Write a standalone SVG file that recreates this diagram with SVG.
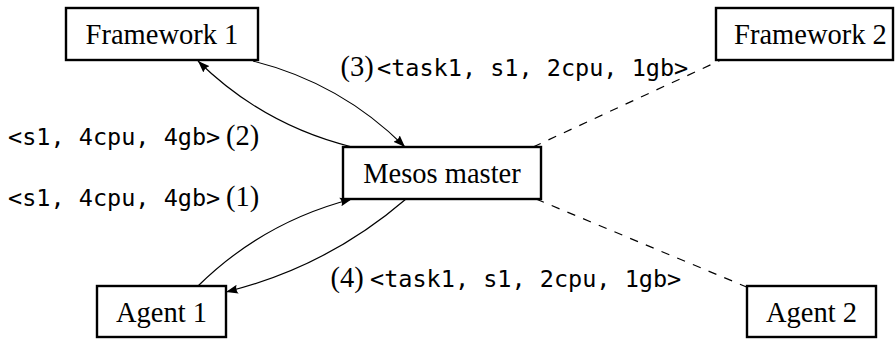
<svg xmlns="http://www.w3.org/2000/svg" width="896" height="340" viewBox="0 0 896 340">
<style>
.box{fill:#fff;stroke:#000;stroke-width:2.4}
.lbl{font-family:"Liberation Serif","DejaVu Serif",serif;font-size:28.5px;fill:#000;text-anchor:middle}
.serif{font-family:"Liberation Serif","DejaVu Serif",serif;font-size:28.5px;fill:#000}
.mono{font-family:"DejaVu Sans Mono","Liberation Mono",monospace;font-size:23.5px;fill:#000}
.edge{fill:none;stroke:#000;stroke-width:1.2}
.dash{fill:none;stroke:#000;stroke-width:1.2;stroke-dasharray:8.5 8.5}
</style>
<defs>
<marker id="arr" markerUnits="userSpaceOnUse" markerWidth="13" markerHeight="10" refX="12" refY="5" orient="auto">
<path d="M0,0.5 L12,5 L0,9.5 Q2.8,5 0,0.5 z" fill="#000"/>
</marker>
</defs>
<rect width="896" height="340" fill="#fff"/>
<g id="connectors">
<path class="edge" d="M253,61 Q341,83 405,147" marker-end="url(#arr)"/>
<path class="edge" d="M352,147 Q263,125 198,61" marker-end="url(#arr)"/>
<path class="edge" d="M198,286 Q263,222 352,199" marker-end="url(#arr)"/>
<path class="edge" d="M406,199 Q327,267 226,292" marker-end="url(#arr)"/>
<path class="dash" d="M533,147 L721,60"/>
<path class="dash" d="M536,199 L749,288"/>
</g>
<g id="framework1">
<rect class="box" x="66" y="8" width="192" height="52"/>
<text class="lbl" x="162" y="44">Framework 1</text>
</g>
<g id="framework2">
<rect class="box" x="716" y="8" width="177" height="52"/>
<text class="lbl" x="810.5" y="44">Framework 2</text>
</g>
<g id="mesos-master">
<rect class="box" x="343" y="147" width="198" height="52"/>
<text class="lbl" x="442" y="183">Mesos master</text>
</g>
<g id="agent1">
<rect class="box" x="97" y="286" width="129" height="51"/>
<text class="lbl" x="161.5" y="322">Agent 1</text>
</g>
<g id="agent2">
<rect class="box" x="747" y="286" width="129" height="51"/>
<text class="lbl" x="811.5" y="322">Agent 2</text>
</g>
<g id="labels">
<text y="145"><tspan class="mono" x="8">&lt;s1, 4cpu, 4gb&gt;</tspan><tspan class="serif" x="226">(2)</tspan></text>
<text y="206"><tspan class="mono" x="8">&lt;s1, 4cpu, 4gb&gt;</tspan><tspan class="serif" x="226">(1)</tspan></text>
<text y="76"><tspan class="serif" x="340.5">(3)</tspan><tspan class="mono" x="377">&lt;task1, s1, 2cpu, 1gb&gt;</tspan></text>
<text y="287"><tspan class="serif" x="330.5">(4)</tspan><tspan class="mono" x="370">&lt;task1, s1, 2cpu, 1gb&gt;</tspan></text>
</g>
</svg>
